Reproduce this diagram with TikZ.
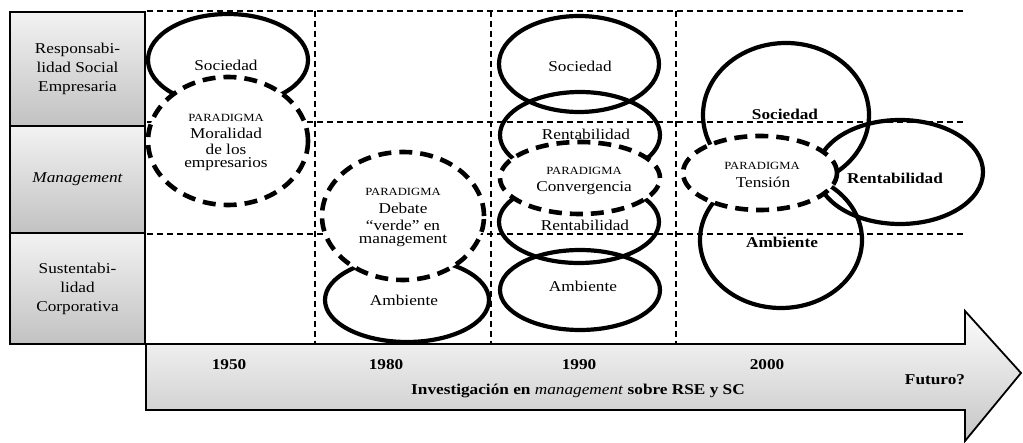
\documentclass[tikz,border=0pt]{standalone}
\usepackage{fontspec}
\setmainfont{Liberation Serif}[FakeStretch=1.15]
\begin{document}
\begin{tikzpicture}[x=1pt,y=-1pt,
  rowbox/.style={draw=black, line width=1.8pt, top color=gray!10, bottom color=gray!48,
    minimum width=135pt, align=center, inner sep=0pt, font=\fontsize{15}{19}\selectfont},
  gridline/.style={line width=1.6pt, dash pattern=on 6pt off 4pt},
  solidell/.style={line width=4.2pt},
  dashell/.style={line width=4.6pt, dash pattern=on 13pt off 8pt, fill=white},
  lab/.style={font=\fontsize{15}{17}\selectfont, inner sep=0pt},
  blab/.style={font=\bfseries\fontsize{15}{17}\selectfont, inner sep=0pt},
  parlab/.style={font=\fontsize{11}{12}\selectfont, inner sep=0pt},
  arrowshape/.style={draw=black, line width=1.8pt, top color=gray!2, bottom color=gray!45}
]
\useasboundingbox (0,0) rectangle (1023,443);

% left row boxes
\node[rowbox, minimum height=114pt] (rse) at (77.5,69) {Responsabi-\\lidad Social\\Empresaria};
\node[rowbox, minimum height=107pt] (mgt) at (77.5,179.5) {\itshape Management};
\node[rowbox, minimum height=111pt] (sc) at (77.5,288.5) {Sustentabi-\\lidad\\Corporativa};

% dashed grid
\draw[gridline] (147,11) -- (965,11);
\draw[gridline] (147,122) -- (965,122);
\draw[gridline] (147,234) -- (965,234);
\draw[gridline] (315,11) -- (315,344);
\draw[gridline] (491,11) -- (491,344);
\draw[gridline] (676,11) -- (676,344);

% column 1950
\draw[solidell] (228,60) ellipse [x radius=80pt, y radius=46pt];
\draw[dashell] (228,141) ellipse [x radius=80pt, y radius=64pt];

% column 1980
\draw[solidell] (407,300) ellipse [x radius=82pt, y radius=42pt];
\draw[dashell] (403,216) ellipse [x radius=81pt, y radius=64pt];

% column 1990
\draw[solidell] (579,64) ellipse [x radius=80pt, y radius=48pt];
\draw[solidell] (580,135) ellipse [x radius=80pt, y radius=43pt];
\draw[solidell] (580,290) ellipse [x radius=80pt, y radius=40pt];
\draw[solidell] (579,222) ellipse [x radius=80pt, y radius=41pt];
\draw[dashell] (580,178) ellipse [x radius=80pt, y radius=36pt];

% column 2000
\draw[solidell] (786,115) ellipse [x radius=83pt, y radius=72pt];
\draw[solidell] (781,240) ellipse [x radius=81pt, y radius=68pt];
\draw[solidell] (900,172) ellipse [x radius=83pt, y radius=52pt];
\draw[dashell] (760,173) ellipse [x radius=77pt, y radius=37pt];

% timeline arrow
\draw[arrowshape] (146,344) -- (965,344) -- (965,311) -- (1021,373) -- (965,441) -- (965,410) -- (146,410) -- cycle;

% texts column 1950
\node[lab] (soc1) at (226,65) {Sociedad};
\node[parlab] (p1) at (226,118) {PARADIGMA};
\node[lab] (m1) at (226,133) {Moralidad};
\node[lab] (m2) at (226,149) {de los};
\node[lab] (m3) at (226,164) {empresarios};

% texts column 1980
\node[parlab] (p2) at (403,192) {PARADIGMA};
\node[lab] (d1) at (403,208) {Debate};
\node[lab] (d2) at (403,225) {“verde” en};
\node[lab] (d3) at (403,241) {management};
\node[lab] (amb2) at (404,300) {Ambiente};

% texts column 1990
\node[lab] (soc3) at (580,66) {Sociedad};
\node[lab] (ren3a) at (586,134) {Rentabilidad};
\node[parlab] (p3) at (584,171) {PARADIGMA};
\node[lab] (c3) at (584,188) {Convergencia};
\node[lab] (ren3b) at (585,225) {Rentabilidad};
\node[lab] (amb3) at (583,286) {Ambiente};

% texts column 2000
\node[blab] (soc4) at (785,114) {Sociedad};
\node[parlab] (p4) at (762,166) {PARADIGMA};
\node[lab] (t4) at (763,182) {Tensión};
\node[blab] (ren4) at (895,178) {Rentabilidad};
\node[blab] (amb4) at (782,242) {Ambiente};

% texts on arrow
\node[blab] (y1950) at (229,365) {1950};
\node[blab] (y1980) at (386,365) {1980};
\node[blab] (y1990) at (579,365) {1990};
\node[blab] (y2000) at (767,365) {2000};
\node[blab] (inv) at (578,391) {Investigación en \textmd{\itshape management} sobre RSE y SC};
\node[blab] (fut) at (935,380) {Futuro?};
\end{tikzpicture}
\end{document}
